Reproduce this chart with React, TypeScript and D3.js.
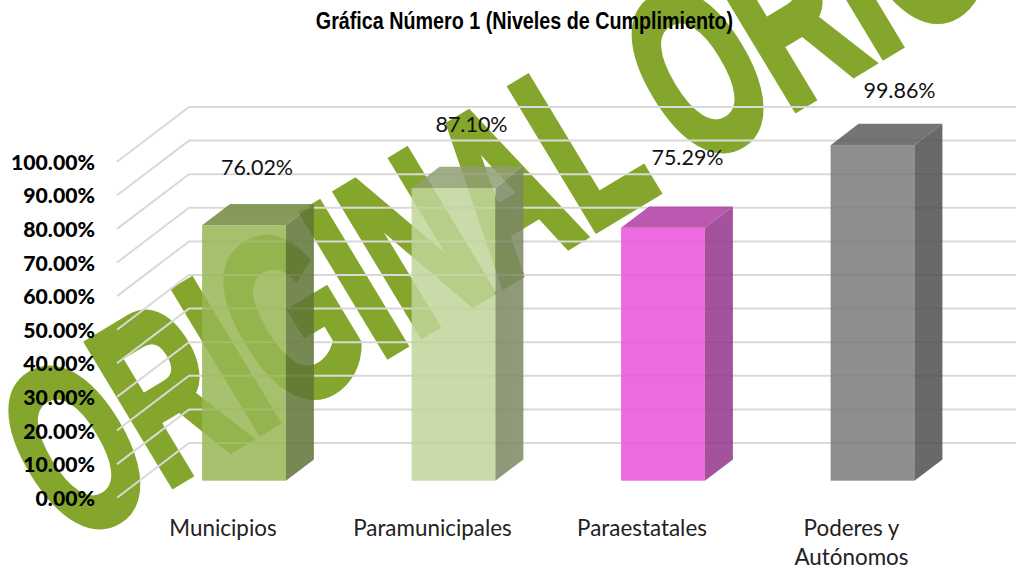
import React from "react";
import * as d3 from "d3";

const categories = ["Municipios", "Paramunicipales", "Paraestatales", "Poderes y|Autónomos"];
const values = [76.02, 87.1, 75.29, 99.86];
const yTicks = [0, 10, 20, 30, 40, 50, 60, 70, 80, 90, 100];
const barColors = ["#96b755", "#c0d599", "#eb51db", "#7b7b7b"];
const title = "Gráfica Número 1 (Niveles de Cumplimiento)";
const stamp = "ORIGINAL ORIG";

const width = 1016;
const height = 567;
const back = { left: 189, right: 1016, zero: 443, top: 107 };
const depth = { x: -72, y: 54.7 };
const barDepth = { x: 28, y: -21.3 };
const labelLift = [29.4, 34.5, 41, 25.7];
const labelShift = [13, 18, 24.5, 27];

const y = d3.scaleLinear().domain([0, 100]).range([back.zero, back.top]);
const x = d3
  .scaleBand<string>()
  .domain(categories)
  .range([139.25, 977.25])
  .paddingInner(0.6)
  .paddingOuter(0.3);

// front plane of the bars sits a bit in front of the back wall
const floorFront = 480.7;
const barY = d3.scaleLinear().domain([0, 100]).range([floorFront, floorFront - (back.zero - back.top)]);

const shade = (hex: string, k: number) => {
  const c = d3.rgb(hex);
  return d3.rgb(c.r * k, c.g * k, c.b * k).formatHex();
};

export default function App() {
  const fmt = (v: number) => v.toFixed(2) + "%";
  const line = d3.line();
  return (
    <svg
      width={width}
      height={height}
      style={{ position: "absolute", left: 0, top: 0, background: "#fff" }}
    >
      <text
        transform="translate(70,546) rotate(-31.1) scale(0.594,1)"
        fontFamily="Liberation Sans"
        fontWeight={700}
        fontSize={238}
        fill="#85a62d"
        stroke="#85a62d"
        strokeWidth={9}
      >
        {stamp}
      </text>

      {yTicks.map((t) => (
        <path
          key={t}
          d={
            line([
              [back.left + depth.x, y(t) + depth.y],
              [back.left, y(t)],
              [back.right, y(t)],
            ]) as string
          }
          fill="none"
          stroke="#d9d9d9"
          strokeWidth={2}
        />
      ))}

      {categories.map((c, i) => {
        const x0 = x(c) as number;
        const x1 = x0 + x.bandwidth();
        const yTop = barY(values[i]);
        return (
          <g key={c} opacity={0.85}>
            <rect x={x0} y={yTop} width={x.bandwidth()} height={floorFront - yTop} fill={barColors[i]} />
            <path
              d={`M${x0},${yTop}L${x0 + barDepth.x},${yTop + barDepth.y}L${x1 + barDepth.x},${yTop + barDepth.y}L${x1},${yTop}Z`}
              fill={shade(barColors[i], 0.75)}
            />
            <path
              d={`M${x1},${yTop}L${x1 + barDepth.x},${yTop + barDepth.y}L${x1 + barDepth.x},${floorFront + barDepth.y}L${x1},${floorFront}Z`}
              fill={shade(barColors[i], 0.64)}
            />
          </g>
        );
      })}

      {categories.map((c, i) => (
        <text
          key={c}
          x={(x(c) as number) + x.bandwidth() / 2 + labelShift[i]}
          y={barY(values[i]) + barDepth.y - labelLift[i]}
          textAnchor="middle"
          fontFamily="Lato"
          fontSize={21.5}
          fill="#111"
        >
          {fmt(values[i])}
        </text>
      ))}

      {yTicks.map((t) => (
        <text
          key={t}
          x={95}
          y={y(t) + depth.y + 8}
          textAnchor="end"
          fontFamily="Lato"
          fontWeight={900}
          fontSize={21.2}
          fill="#000"
        >
          {fmt(t)}
        </text>
      ))}

      {categories.map((c) => (
        <text
          key={c}
          x={(x(c) as number) + x.bandwidth() / 2 - 21}
          y={536}
          textAnchor="middle"
          fontFamily="Lato"
          fontSize={22.4}
          fill="#222"
        >
          {c.split("|").map((part, j) => (
            <tspan key={part} x={(x(c) as number) + x.bandwidth() / 2 - 21} dy={j === 0 ? 0 : 29}>
              {part}
            </tspan>
          ))}
        </text>
      ))}

      <text
        transform="translate(524.5,28.5) scale(0.858,1)"
        textAnchor="middle"
        fontFamily="Liberation Sans"
        fontWeight={700}
        fontSize={23}
        fill="#000"
      >
        {title}
      </text>
    </svg>
  );
}
